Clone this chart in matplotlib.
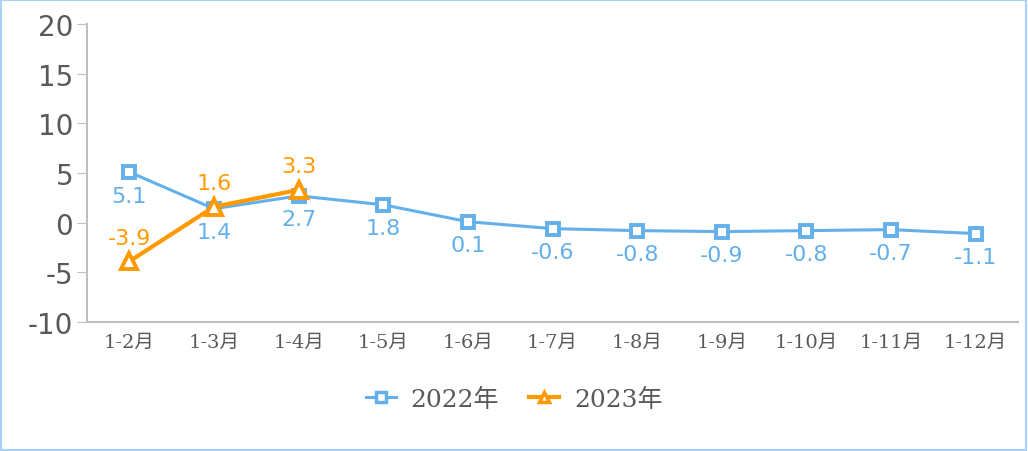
import matplotlib
matplotlib.use("Agg")
import matplotlib.pyplot as plt
from matplotlib.patches import Rectangle

categories = ["1-2月", "1-3月", "1-4月", "1-5月", "1-6月", "1-7月", "1-8月", "1-9月", "1-10月", "1-11月", "1-12月"]
v2022 = [5.1, 1.4, 2.7, 1.8, 0.1, -0.6, -0.8, -0.9, -0.8, -0.7, -1.1]
v2023 = [-3.9, 1.6, 3.3]
yticks = [-10, -5, 0, 5, 10, 15, 20]

blue = "#63B0EA"
orange = "#FF9900"
gray = "#595959"
serif_cjk = ["DejaVu Serif", "Noto Sans CJK SC"]

fig = plt.figure(figsize=(10.28, 4.52), dpi=100)
ax = fig.add_axes([87/1028, 1-323/452, (1018-87)/1028, (323-25)/452])

x22 = list(range(len(v2022)))
x23 = list(range(len(v2023)))
ax.plot(x22, v2022, color=blue, lw=2.2, marker="s", ms=9, mfc="white", mec=blue, mew=2.8, label="2022年", zorder=3)
ax.plot(x23, v2023, color=orange, lw=3, marker="^", ms=12, mfc="white", mec=orange, mew=2.8, label="2023年", zorder=4)

for xi, v in zip(x22, v2022):
    ax.annotate(f"{v:g}", (xi, v), xytext=(0, -17), textcoords="offset points",
                ha="center", va="center", color=blue, fontsize=16, family="DejaVu Sans")
for xi, v in zip(x23, v2023):
    ax.annotate(f"{v:g}", (xi, v), xytext=(0, 17), textcoords="offset points",
                ha="center", va="center", color=orange, fontsize=16, family="DejaVu Sans")

ax.set_xlim(-0.5, len(categories) - 0.5)
ax.set_ylim(-10, 20)
ax.set_yticks(yticks)
ax.set_yticklabels([str(t) for t in yticks], fontsize=20, color=gray, family="DejaVu Sans")
ax.set_xticks(x22)
ax.set_xticklabels(categories, fontsize=14, color=gray, family=serif_cjk)
ax.tick_params(axis="y", length=7, color="#BFBFBF", pad=3)
ax.tick_params(axis="x", length=0, pad=8)
for s in ["top", "right"]:
    ax.spines[s].set_visible(False)
for s in ["left", "bottom"]:
    ax.spines[s].set_color("#BFBFBF")
    ax.spines[s].set_linewidth(1.5)

leg = fig.legend(loc="center", bbox_to_anchor=(0.5, 1-400/452), ncol=2, frameon=False,
                 handlelength=1.2, columnspacing=1.2, handletextpad=0.6,
                 prop={"family": serif_cjk, "size": 18})
for t in leg.get_texts():
    t.set_color(gray)
    t.set_family(serif_cjk)
for h in leg.legend_handles:
    h.set_markersize(7)
    h.set_markeredgewidth(2.5)

fig.add_artist(Rectangle((0.001, 0.002), 0.997, 0.995, transform=fig.transFigure,
                         fill=False, edgecolor="#A9D0F5", lw=1.5))

fig.savefig("out.png", dpi=100)
